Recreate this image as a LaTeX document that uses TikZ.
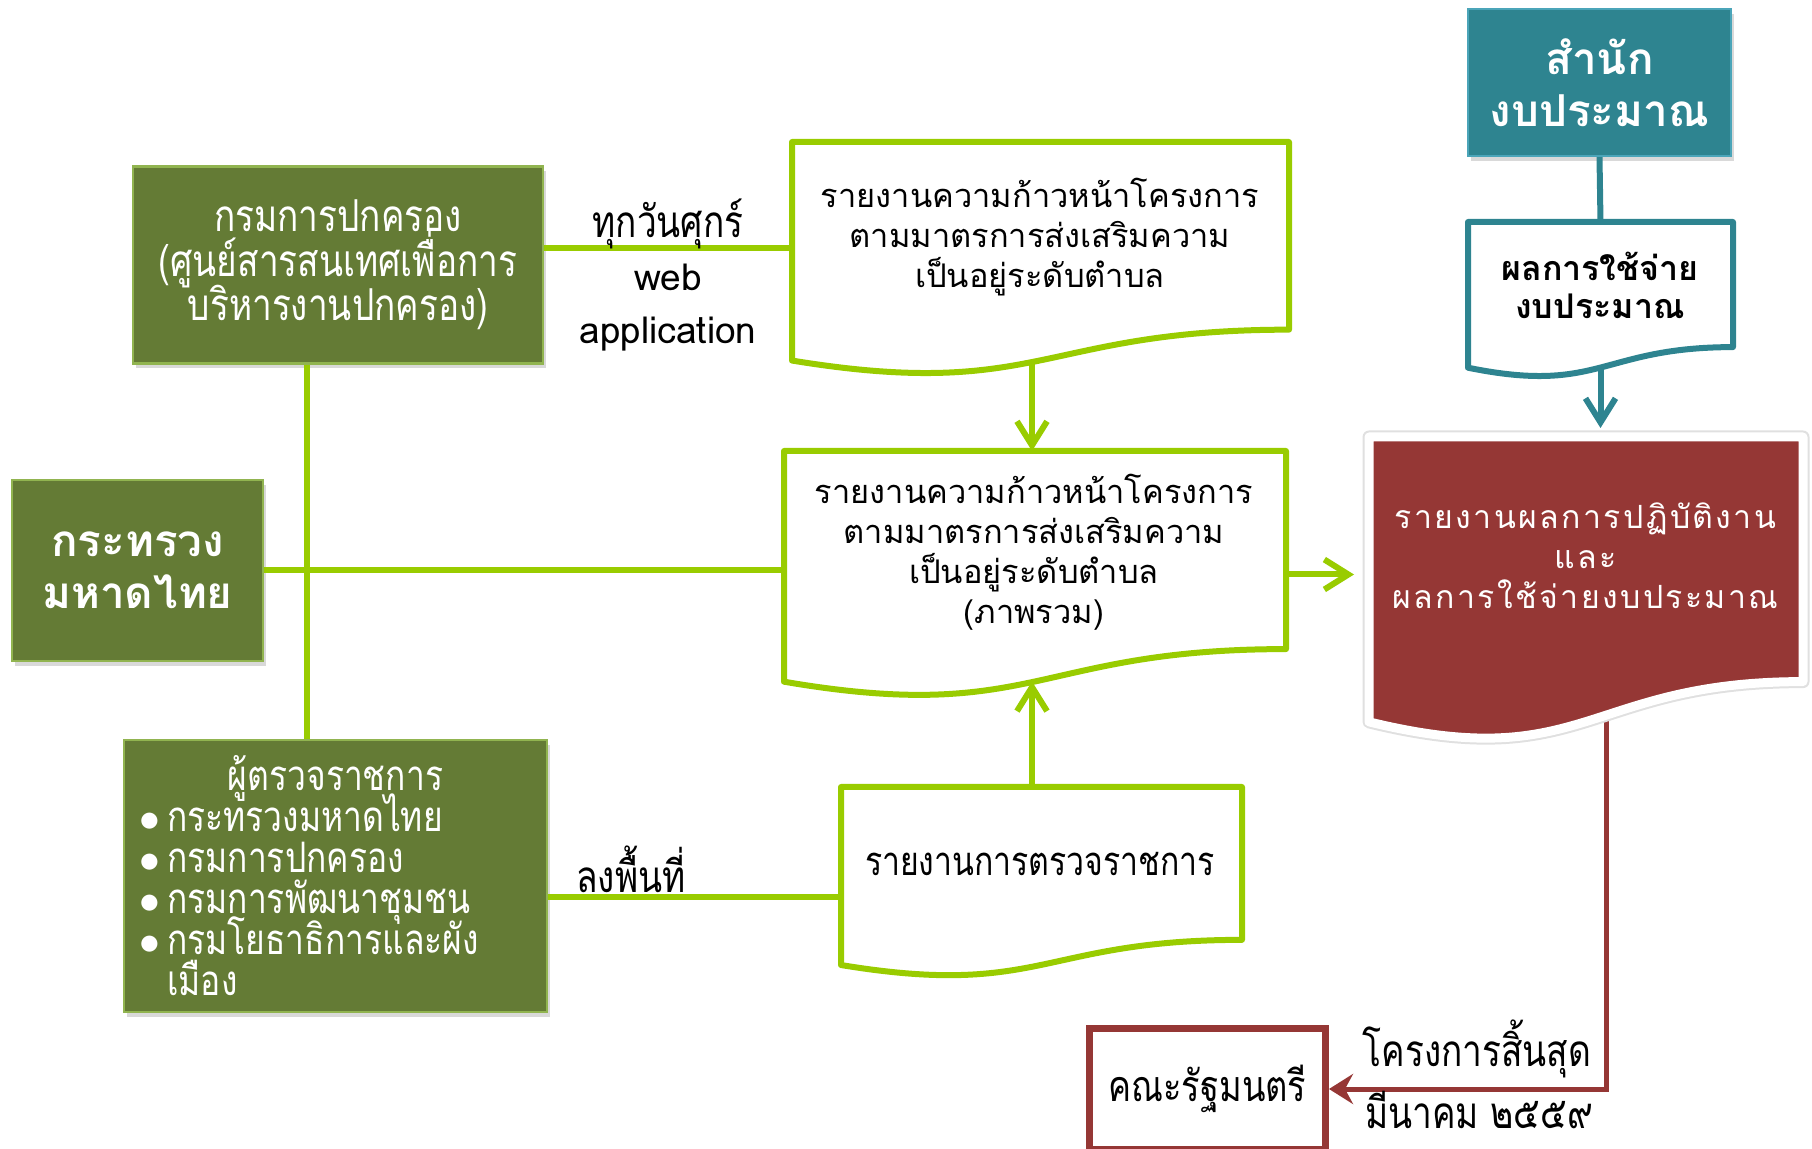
\documentclass[tikz,border=0pt]{standalone}
\usepackage{fontspec}
\usepackage{tikz}
\usetikzlibrary{calc, shadows, arrows.meta}
\newfontfamily\thai[Script=Thai]{Loma}
\newfontfamily\thainarrow[Script=Thai, FakeStretch=0.8]{Loma}
\newfontfamily\thaispaced[Script=Thai, LetterSpace=7.5]{Loma}
\definecolor{dopa}{RGB}{100,123,53}
\definecolor{dopabd}{RGB}{145,180,80}
\definecolor{flowgreen}{RGB}{153,204,0}
\definecolor{budteal}{RGB}{46,132,144}
\definecolor{budtealbd}{RGB}{75,165,185}
\definecolor{repred}{RGB}{149,55,53}

% document symbol with a wavy bottom, drawn round an empty node
\newcommand{\docoutline}[1]{(#1.north west) -- (#1.north east)
  -- ($(#1.north east)!0.802!(#1.south east)$)
  .. controls ($(#1.north)!0.802!(#1.south)$) and ($(#1.north)!1.1075!(#1.south)$)
  .. ($(#1.north west)!0.934!(#1.south west)$) -- cycle}
\newcommand{\evenlines}{\lineskiplimit=-20pt\relax}

\tikzset{
  orgbox/.style={fill=dopa, draw=dopabd, line width=1.2pt, text=white, align=center,
    inner sep=0pt, drop shadow={shadow xshift=1.5pt, shadow yshift=-2.5pt, opacity=0.3}},
  docarea/.style={anchor=north west, inner sep=0pt, outer sep=0pt},
  doctext/.style={align=center, font=\thai\fontsize{16.3}{20}\selectfont},
  gline/.style={draw=flowgreen, line width=3pt},
  garrow/.style={gline, -{Straight Barb[length=12pt, width=15pt]}},
  tline/.style={draw=budteal, line width=3pt},
  tarrow/.style={tline, -{Straight Barb[length=12pt, width=15pt]}},
  rarrow/.style={draw=repred, line width=2.5pt, -{Stealth[length=12pt, width=15pt, inset=4pt]}},
  lbl/.style={align=center, font=\thainarrow\fontsize{22}{26.5}\selectfont}
}

\begin{document}
\begin{tikzpicture}[x=0.5pt, y=-0.5pt]
  \useasboundingbox (0,0) rectangle (1812,1149);

  \node[orgbox, minimum width=205pt, minimum height=98.5pt,
    font=\thainarrow\fontsize{22}{22.2}\selectfont\evenlines] (dopa) at (338,265)
    {กรมการปกครอง\\(ศูนย์สารสนเทศเพื่อการ\\บริหารงานปกครอง)};
  \node[orgbox, minimum width=125.5pt, minimum height=90.5pt,
    font=\thai\bfseries\fontsize{22}{26}\selectfont] (moi) at (137.5,570.5)
    {กระทรวง\\มหาดไทย};
  \node[orgbox, minimum width=211.5pt, minimum height=136pt, text width=196pt, align=left,
    font=\thainarrow\fontsize{21}{20.5}\selectfont] (insp) at (335.5,876)
    {\evenlines\centering ผู้ตรวจราชการ\par\raggedright
     $\bullet$\,กระทรวงมหาดไทย\\$\bullet$\,กรมการปกครอง\\$\bullet$\,กรมการพัฒนาชุมชน\\
     $\bullet$\,กรมโยธาธิการและผัง\\\phantom{$\bullet$\,}เมือง};
  \node[orgbox, fill=budteal, draw=budtealbd, minimum width=131.5pt, minimum height=73.5pt,
    font=\thai\bfseries\fontsize{22}{26}\selectfont] (bob) at (1599.5,82.5)
    {สำนัก\\งบประมาณ};
  \node[draw=repred, line width=3.5pt, fill=white, minimum width=118pt, minimum height=60pt,
    font=\thainarrow\fontsize{21.5}{20}\selectfont] (cab) at (1207.5,1089) {คณะรัฐมนตรี};

  \node[docarea, minimum width=248.5pt, minimum height=117pt] (prog) at (792,142) {};
  \node[docarea, minimum width=251pt, minimum height=123.5pt] (sum) at (784,451) {};
  \node[docarea, minimum width=200.5pt, minimum height=95.3pt] (insprep) at (841,787) {};
  \node[docarea, minimum width=132.5pt, minimum height=78pt] (spend) at (1468,222) {};
  \node[docarea, minimum width=217pt, minimum height=152.5pt] (result) at (1369,437) {};

  % connectors
  \coordinate (trunk) at (307,0);
  \coordinate (friday) at ([yshift=8.5pt]dopa.east);
  \coordinate (field) at ([yshift=-10.5pt]insp.east);
  \draw[gline] (dopa.south -| trunk) -- (insp.north -| trunk);
  \draw[gline] (friday) -- (friday -| prog.west);
  \draw[gline] (moi.east) -- (moi.east -| sum.west);
  \draw[gline] (field) -- (field -| insprep.west);

  \coordinate (progout) at ($(prog.north)!0.933!(prog.south)+(-8.5,0)$);
  \coordinate (sumin) at ($(sum.north)!0.933!(sum.south)+(-3,0)$);
  \draw[garrow] (progout) -- (progout |- sum.north);
  \draw[garrow] (sumin |- insprep.north) -- (sumin);
  \draw[garrow, shorten >=7.5pt] (sum.east) -- (sum.east -| result.west);

  \draw[tline] (bob.south) -- (spend.north);
  \coordinate (spendout) at ($(spend.north)!0.933!(spend.south)$);
  \draw[tarrow, shorten >=4.5pt] (spendout) -- (spendout |- result.north);

  \coordinate (resultout) at ($(result.north)!0.9!(result.south)+(20,0)$);
  \draw[rarrow] (resultout) |- (cab.east);

  % documents
  \draw[gline, fill=white, line join=round] \docoutline{prog};
  \draw[gline, fill=white, line join=round] \docoutline{sum};
  \draw[gline, fill=white, line join=round] \docoutline{insprep};
  \draw[tline, fill=white, line join=round] \docoutline{spend};
  \draw[draw=black!12, line width=6.5pt, line join=round,
    drop shadow={shadow xshift=1pt, shadow yshift=-2pt, opacity=0.2}] \docoutline{result};
  \draw[draw=white, line width=4.5pt, fill=repred, line join=round] \docoutline{result};

  \node[doctext] (prog-txt) at (1040,237)
    {รายงานความก้าวหน้าโครงการ\\ตามมาตรการส่งเสริมความ\\เป็นอยู่ระดับตำบล};
  \node[doctext] (sum-txt) at (1034,552)
    {รายงานความก้าวหน้าโครงการ\\ตามมาตรการส่งเสริมความ\\เป็นอยู่ระดับตำบล\\(ภาพรวม)};
  \node[doctext, font=\thainarrow\fontsize{20}{20}\selectfont] (insprep-txt) at (1040,864)
    {รายงานการตรวจราชการ};
  \node[doctext, font=\thai\bfseries\fontsize{17}{19}\selectfont] (spend-txt) at (1600,285)
    {ผลการใช้จ่าย\\งบประมาณ};
  \node[doctext, text=white, font=\thaispaced\fontsize{16}{20}\selectfont] (result-txt) at (1585.5,556)
    {รายงานผลการปฏิบัติงาน\\และ\\ผลการใช้จ่ายงบประมาณ};

  \node[lbl] (friday-lbl) at (668,275)
    {ทุกวันศุกร์\\{\thai\fontsize{18.5}{26.5}\selectfont web}\\{\thai\fontsize{18.5}{26.5}\selectfont application}};
  \node[lbl] (field-lbl) at (631,869) {ลงพื้นที่};
  \node[lbl] (end-lbl) at (1477,1049) {โครงการสิ้นสุด};
  \node[lbl] (date-lbl) at (1479,1110) {มีนาคม ๒๕๕๙};
\end{tikzpicture}
\end{document}
